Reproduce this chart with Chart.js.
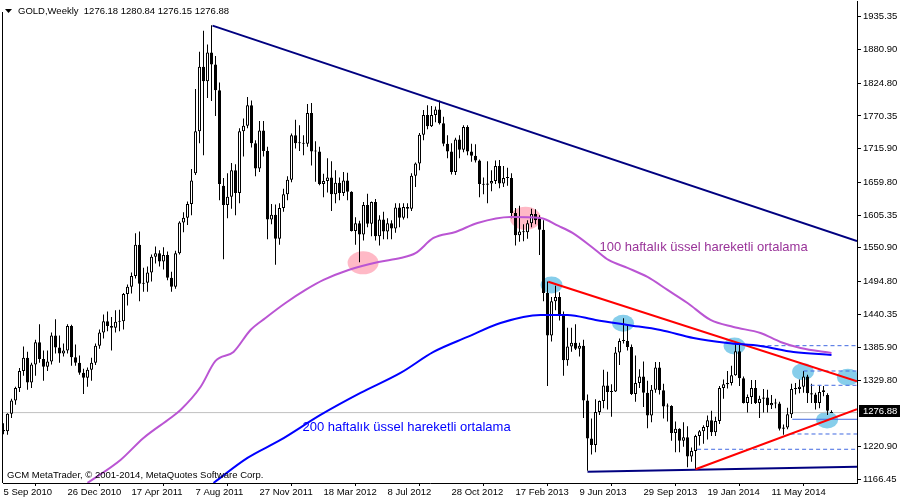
<!DOCTYPE html>
<html>
<head>
<meta charset="utf-8">
<title>GOLD, Weekly</title>
<script src="https://cdn.jsdelivr.net/npm/chart.js@4.4.1/dist/chart.umd.min.js"></script>
<style>
  html, body { margin: 0; padding: 0; background: #fff; }
  #chart { display: block; }
</style>
</head>
<body>
<canvas id="chart" width="900" height="500"></canvas>
<script>
// x axis: one step per week, week 0 = 5 Sep 2010
const tickWeeks = [0, 16, 32, 48, 64, 80, 96, 112, 128, 144, 160, 176, 192];
const tickLabels = ["5 Sep 2010", "26 Dec 2010", "17 Apr 2011", "7 Aug 2011", "27 Nov 2011", "18 Mar 2012",
  "8 Jul 2012", "28 Oct 2012", "17 Feb 2013", "9 Jun 2013", "29 Sep 2013", "19 Jan 2014", "11 May 2014"];
const priceTicks = [1935.35, 1880.90, 1824.80, 1770.35, 1715.90, 1659.80, 1605.35, 1550.90, 1494.80,
  1440.35, 1385.90, 1329.80, 1220.90, 1166.45];

// weekly candles
const opens = [1248,1246,1275,1297,1318,1346,1368,1327,1357,1394,
  1366,1353,1362,1405,1385,1375,1380,1421,1369,1360,
  1343,1335,1348,1360,1388,1410,1429,1421,1418,1428,
  1429,1474,1486,1504,1556,1491,1493,1510,1536,1542,
  1528,1539,1501,1486,1542,1593,1601,1624,1675,1745,
  1852,1828,1876,1856,1813,1654,1622,1636,1680,1642,
  1745,1754,1788,1725,1683,1746,1712,1598,1606,1566,
  1617,1640,1664,1738,1725,1725,1724,1775,1711,1711,
  1657,1662,1668,1640,1659,1642,1663,1644,1579,1592,
  1573,1622,1591,1627,1570,1598,1578,1592,1583,1618,
  1601,1619,1616,1671,1691,1739,1772,1753,1772,1781,
  1758,1724,1711,1677,1731,1714,1752,1711,1704,1696,
  1657,1656,1658,1662,1687,1658,1667,1667,1609,1572,
  1578,1577,1592,1607,1600,1581,1476,1405,1462,1469,
  1440,1364,1387,1393,1383,1388,1297,1234,1223,1278,
  1296,1322,1311,1312,1377,1396,1396,1386,1308,1326,
  1337,1310,1272,1315,1352,1314,1287,1288,1243,1250,
  1230,1236,1204,1213,1238,1246,1253,1264,1244,1263,
  1318,1324,1326,1339,1379,1334,1293,1303,1318,1293,
  1300,1302,1289,1293,1292,1250,1252,1274,1316,1316,
  1320,1337,1309,1307,1293,1311,1306,1276.18];
const highs = [1259,1276,1300,1320,1351,1387,1378,1360,1398,1424,
  1380,1380,1410,1432,1405,1392,1424,1423,1390,1372,
  1350,1352,1368,1392,1415,1440,1445,1436,1447,1448,
  1476,1490,1510,1575,1578,1518,1520,1540,1553,1547,
  1552,1545,1511,1546,1595,1610,1628,1682,1815,1877,
  1912,1889,1921,1870,1826,1667,1675,1692,1690,1750,
  1766,1802,1796,1730,1762,1762,1719,1624,1623,1625,
  1649,1670,1741,1764,1755,1738,1790,1792,1728,1719,
  1674,1700,1695,1680,1668,1677,1676,1645,1602,1596,
  1627,1641,1628,1632,1605,1611,1600,1597,1625,1625,
  1625,1625,1675,1693,1742,1780,1788,1787,1786,1796,
  1769,1738,1725,1734,1738,1755,1755,1724,1723,1698,
  1668,1695,1680,1696,1697,1687,1684,1675,1617,1621,
  1590,1597,1616,1615,1605,1597,1495,1469,1488,1477,
  1445,1418,1418,1424,1393,1398,1307,1267,1299,1297,
  1348,1345,1324,1386,1400,1434,1424,1390,1372,1349,
  1362,1330,1323,1361,1361,1325,1292,1289,1262,1251,
  1261,1254,1219,1240,1248,1256,1272,1280,1270,1321,
  1332,1346,1355,1392,1391,1337,1307,1331,1331,1305,
  1316,1315,1306,1300,1295,1257,1285,1325,1326,1332,
  1346,1340,1325,1310,1322,1321,1309,1280.84];
const lows = [1241,1240,1268,1290,1311,1338,1315,1318,1338,1360,
  1330,1346,1357,1375,1360,1370,1375,1355,1355,1340,
  1308,1320,1330,1356,1383,1400,1412,1380,1410,1412,
  1415,1455,1475,1500,1462,1478,1478,1495,1525,1520,
  1515,1497,1478,1483,1540,1577,1589,1605,1672,1725,
  1705,1800,1795,1770,1630,1532,1600,1616,1605,1625,
  1703,1750,1718,1670,1677,1703,1565,1590,1523,1556,
  1611,1630,1660,1716,1712,1705,1719,1688,1661,1655,
  1635,1643,1612,1625,1630,1637,1630,1578,1556,1527,
  1563,1585,1570,1563,1555,1565,1565,1565,1576,1585,
  1598,1600,1612,1652,1680,1730,1748,1752,1760,1756,
  1720,1700,1673,1672,1700,1710,1705,1694,1693,1635,
  1640,1625,1645,1657,1650,1652,1654,1600,1555,1561,
  1562,1566,1585,1590,1539,1462,1321,1395,1447,1430,
  1338,1355,1378,1381,1370,1268,1180,1207,1211,1273,
  1284,1282,1270,1311,1356,1392,1380,1306,1295,1318,
  1286,1251,1261,1310,1307,1267,1262,1230,1211,1211,
  1220,1186,1195,1182,1222,1225,1232,1238,1238,1258,
  1300,1317,1322,1338,1321,1292,1277,1291,1291,1268,
  1277,1277,1283,1284,1247,1240,1249,1268,1307,1309,
  1310,1293,1293,1282,1284,1304,1273,1276.15];
const closes = [1246,1275,1297,1318,1346,1368,1327,1357,1394,1366,
  1353,1362,1405,1385,1375,1380,1421,1369,1360,1343,
  1335,1348,1360,1388,1410,1429,1421,1418,1428,1429,
  1474,1486,1504,1556,1491,1493,1510,1536,1542,1528,
  1539,1501,1486,1542,1593,1601,1624,1663,1745,1852,
  1828,1876,1856,1813,1657,1622,1636,1680,1642,1745,
  1754,1788,1725,1683,1746,1712,1598,1606,1566,1617,
  1640,1664,1738,1725,1725,1724,1775,1711,1711,1657,
  1662,1668,1640,1659,1642,1663,1644,1579,1592,1573,
  1622,1591,1627,1570,1598,1578,1592,1583,1618,1601,
  1619,1616,1671,1691,1739,1772,1753,1772,1781,1758,
  1724,1711,1677,1731,1714,1752,1711,1704,1696,1657,
  1656,1658,1662,1687,1658,1667,1667,1609,1572,1578,
  1577,1592,1607,1597,1581,1476,1405,1462,1469,1440,
  1364,1387,1393,1383,1388,1297,1234,1223,1278,1296,
  1322,1311,1312,1377,1396,1396,1386,1308,1326,1337,
  1310,1272,1315,1352,1314,1287,1288,1243,1250,1230,
  1236,1204,1213,1238,1246,1253,1264,1244,1263,1318,
  1324,1326,1339,1379,1334,1293,1303,1318,1293,1300,
  1302,1289,1293,1292,1250,1252,1274,1316,1316,1320,
  1337,1309,1307,1293,1311,1314,1280,1276.88];
const lastPrice = 1276.88;

// exponential moving averages
const ema100Weeks = [21, 29.25, 35, 41.75, 44.25, 49.25, 53, 57.5, 61.75, 65.5, 70.5, 75.5, 80, 86.25, 93.75,
  99.25, 103, 107.5, 113, 118.5, 126.75, 134.25, 138.75, 142.25, 148, 151.25, 156, 161, 166, 171, 176.75,
  182.5, 189.25, 194.25, 199.25, 207];
const ema100Values = [1159.9, 1198.1, 1234.7, 1268, 1281.3, 1319.5, 1362.8, 1377.8, 1414.3, 1434.3, 1459.2,
  1480.9, 1497.5, 1514.1, 1527.4, 1534, 1542, 1567.3, 1577.3, 1592.3, 1602.3, 1600.6, 1587.3, 1575.7, 1547.4,
  1530.8, 1517.5, 1502.5, 1480.9, 1459.2, 1431, 1419.3, 1409.3, 1394.4, 1384.4, 1376];
const ema200Weeks = [52.5, 61, 69.25, 79.25, 89.25, 99.25, 107.5, 116, 124.25, 134.25, 141, 148, 156, 164.25,
  172.5, 181, 189.25, 197.5, 207];
const ema200Values = [1159.9, 1201.5, 1231.4, 1273, 1309.6, 1342.8, 1377.8, 1402.7, 1426, 1439.3, 1439.3, 1431,
  1422.7, 1414.3, 1401, 1392.7, 1387.7, 1377.8, 1372.8];

// trend lines (week, price)
const topTrendWeeks = [52.25, 213.375];
const topTrendPrices = [1920.5, 1562];
const upperRedWeeks = [136.2, 213.375];
const upperRedPrices = [1494.6, 1328.9];
const lowerRedWeeks = [173, 213.375];
const lowerRedPrices = [1182.7, 1282.5];
const floorWeeks = [146, 213.375];
const floorPrices = [1178.7, 1187];

// horizontal levels on the right
const levelPrices = [1388.2, 1346.1, 1322.3, 1265.8, 1241.3, 1215.9];
const levelFromWeeks = [189.25, 200, 201.75, 197.2, 196.75, 173.4];

// highlighted touches
const markWeeks = [89.9, 130.5, 137, 154.9, 182.75, 199.9, 211.1, 205.9];
const markPrices = [1526, 1600, 1489, 1425.5, 1387.7, 1345, 1335.7, 1264.6];
const markKinds = ["pink", "pink", "blue", "blue", "blue", "blue", "blue", "blue"];

const xEnd = 213.375;
const smallFont = { family: "'Liberation Sans', Arial, sans-serif", size: 9.5 };

function pts(ws, vs) {
  return ws.map((w, i) => ({ x: w, y: vs[i] }));
}

function straight(ws, vs, color, width, extra) {
  return Object.assign({
    type: "line", data: pts(ws, vs), borderColor: color, borderWidth: width,
    pointRadius: 0, fill: false, tension: 0, order: 0
  }, extra || {});
}

const bodies = opens.map((o, i) => ({ x: i, y: [o, closes[i]] }));
const wicks = lows.map((l, i) => ({ x: i, y: [l, highs[i]] }));

const datasets = [
  {
    type: "line", data: pts(ema100Weeks, ema100Values), borderColor: "#ba55d3", borderWidth: 2,
    pointRadius: 0, fill: false, cubicInterpolationMode: "monotone", order: 0
  },
  {
    type: "line", data: pts(ema200Weeks, ema200Values), borderColor: "#0000ff", borderWidth: 2,
    pointRadius: 0, fill: false, cubicInterpolationMode: "monotone", order: 0
  },
  straight(topTrendWeeks, topTrendPrices, "#000080", 2),
  straight(upperRedWeeks, upperRedPrices, "#ff0000", 2),
  straight(lowerRedWeeks, lowerRedPrices, "#ff0000", 2),
  straight(floorWeeks, floorPrices, "#000080", 2),
  straight([-0.125, xEnd], [lastPrice, lastPrice], "#c0c0c0", 1, { order: 3 })
];

levelPrices.forEach((p, i) => {
  datasets.push(straight([levelFromWeeks[i], xEnd], [p, p], "#4169e1", 1,
    { borderDash: i === 3 ? [] : [4, 3] }));
});

datasets.push({
  type: "bar", data: bodies, grouped: false, order: 1,
  barPercentage: 1, categoryPercentage: 1, maxBarThickness: 3, minBarLength: 1,
  borderWidth: 1, borderColor: "#000", borderSkipped: false, inflateAmount: 0,
  backgroundColor: c => (c.raw && c.raw.y[1] >= c.raw.y[0]) ? "#fff" : "#000"
});
datasets.push({
  type: "bar", data: wicks, grouped: false, order: 2,
  barPercentage: 1, categoryPercentage: 1, maxBarThickness: 1,
  borderWidth: 0, inflateAmount: 0, backgroundColor: "#000"
});

const overlay = {
  id: "overlay",
  beforeDatasetsDraw(chart) {
    const { ctx, chartArea: a } = chart;
    const x = chart.scales.x, y = chart.scales.y;
    ctx.save();
    ctx.beginPath();
    ctx.rect(a.left, a.top, a.right - a.left, a.bottom - a.top);
    ctx.clip();
    markWeeks.forEach((w, i) => {
      const pink = markKinds[i] === "pink";
      ctx.fillStyle = pink ? "#ffb9c6" : "#87ceeb";
      ctx.beginPath();
      ctx.ellipse(x.getPixelForValue(w), y.getPixelForValue(markPrices[i]),
        pink ? 15.5 : 11, pink ? 11.5 : 8.5, 0, 0, Math.PI * 2);
      ctx.fill();
    });
    ctx.restore();
  },
  afterDraw(chart) {
    const { ctx, chartArea: a } = chart;
    const x = chart.scales.x, y = chart.scales.y;
    ctx.save();
    // left frame
    ctx.fillStyle = "#000";
    ctx.fillRect(2, 12, 1, a.bottom - 12);

    ctx.font = "9.5px 'Liberation Sans', Arial, sans-serif";
    ctx.textBaseline = "middle";
    ctx.textAlign = "left";

    // header
    ctx.beginPath();
    ctx.moveTo(5, 9); ctx.lineTo(12, 9); ctx.lineTo(8.5, 13); ctx.closePath();
    ctx.fill();
    ctx.fillText("GOLD,Weekly  1276.18 1280.84 1276.15 1276.88", 18, 11);

    // copyright
    ctx.fillText("GCM MetaTrader, \u00a9 2001-2014, MetaQuotes Software Corp.", 7, 475);

    // moving average captions
    ctx.font = "13px 'Liberation Sans', Arial, sans-serif";
    ctx.fillStyle = "#993399";
    ctx.fillText("100 haftal\u0131k \u00fcssel hareketli ortalama", x.getPixelForValue(149), y.getPixelForValue(1552.4));
    ctx.fillStyle = "#0000ff";
    ctx.fillText("200 haftal\u0131k \u00fcssel hareketli ortalama", x.getPixelForValue(74.75), y.getPixelForValue(1253));

    // current price box
    const py = Math.round(y.getPixelForValue(lastPrice));
    ctx.fillStyle = "#000";
    ctx.fillRect(859, py - 8, 41, 12);
    ctx.fillStyle = "#fff";
    ctx.font = "9.5px 'Liberation Sans', Arial, sans-serif";
    ctx.fillText(lastPrice.toFixed(2), 863, py - 2);
    ctx.restore();
  }
};

new Chart(document.getElementById("chart"), {
  type: "bar",
  data: { datasets },
  options: {
    responsive: false,
    animation: false,
    events: [],
    layout: { padding: { top: 1, left: 3, right: 0, bottom: 0 } },
    plugins: { legend: { display: false }, tooltip: { enabled: false } },
    scales: {
      x: {
        type: "linear", min: -0.125, max: xEnd, offset: false,
        grid: { drawOnChartArea: false, color: "#000", tickLength: 3 },
        border: { color: "#000" },
        ticks: {
          font: smallFont, color: "#000", align: "start", padding: 1,
          maxRotation: 0, autoSkip: false,
          callback: (v, i) => tickLabels[i]
        },
        afterBuildTicks: s => { s.ticks = tickWeeks.map(v => ({ value: v })); },
        afterFit: s => { s.height = 17; s.paddingLeft = 0; s.paddingRight = 0; }
      },
      y: {
        type: "linear", position: "right", min: 1159.8, max: 1961.46, beginAtZero: false,
        grid: { drawOnChartArea: false, color: "#000", tickLength: 4 },
        border: { color: "#000" },
        ticks: { font: smallFont, color: "#000", padding: 2, callback: v => v.toFixed(2) },
        afterBuildTicks: s => { s.ticks = priceTicks.map(v => ({ value: v })); },
        afterFit: s => { s.width = 43; s.paddingTop = 0; s.paddingBottom = 0; }
      }
    }
  },
  plugins: [overlay]
});
</script>
</body>
</html>
